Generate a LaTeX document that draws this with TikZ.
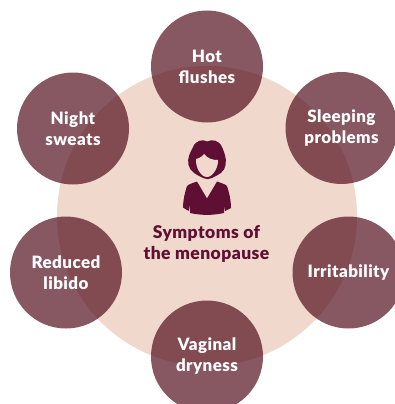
\documentclass[tikz,border=0pt]{standalone}
\usepackage{xcolor}
\usepackage{fontspec}
\setmainfont{Lato}[LetterSpace=2.5, BoldFont={Lato Black}]
\usepackage{tikz}
\definecolor{plum}{HTML}{5E0F33}
\definecolor{wine}{HTML}{4A0012}
\definecolor{sand}{HTML}{F0D9CC}

\begin{document}
\begin{tikzpicture}[
    x=1pt, y=-1pt,
    symptom/.style={circle, minimum size=112pt, inner sep=0pt, align=center,
                font=\fontsize{17}{21}\selectfont\bfseries, text=white,
                fill=wine, fill opacity=0.66, text opacity=1},
    title/.style={align=center, font=\fontsize{17.5}{21}\selectfont\bfseries, text=plum}
]

\clip (0,0) rectangle (395,404);
\fill[white] (0,0) rectangle (395,404);

% Background
\node[circle, fill=sand, minimum size=300pt, inner sep=0pt] (disc) at (207,216) {};

% Symptoms
\node[symptom] (hot) at (207,66.5) {Hot\\flushes};
\node[symptom] (sleep) at (341.5,128) {Sleeping\\problems};
\node[symptom] (irritable) at (348.5,272.5) {Irritability};
\node[symptom] (vaginal) at (207,356.5) {Vaginal\\dryness};
\node[symptom] (libido) at (66,272.5) {Reduced\\libido};
\node[symptom] (night) at (73,128.5) {Night\\sweats};

% Centre
\node[title] (centre) at (206.5,243.5) {Symptoms of\\the menopause};

% Woman
\fill[plum] (207,141.5) .. controls (203,139) and (196,140) .. (193,147)
    .. controls (190,153) and (187,158) .. (188.5,165)
    .. controls (190,172) and (197,175) .. (203,178)
    .. controls (206,179.5) and (209,179.5) .. (212,178)
    .. controls (218,175) and (225,172) .. (225.5,165)
    .. controls (227,158) and (224,152) .. (222,147)
    .. controls (219,140) and (212,139) .. (207,141.5) -- cycle;
\fill[sand] (196,159) .. controls (201,158) and (203,155) .. (204,154)
    .. controls (208,159) and (213,160) .. (218,160)
    .. controls (218.5,167) and (213,177) .. (207,177)
    .. controls (201,177) and (195.5,168) .. (196,159) -- cycle;
\fill[plum] (197,181.5) -- (207,198.5) -- (217,181.5)
    .. controls (221,183) and (225,184) .. (227,186)
    .. controls (229,192) and (231,200) .. (231,208)
    .. controls (229,209) and (227,210) .. (225,211)
    -- (224,204) -- (224,213)
    .. controls (213,215.5) and (201,215.5) .. (190,213)
    -- (190,204) -- (189,211)
    .. controls (187,210) and (185,209) .. (183,207.5)
    .. controls (183,200) and (185,192) .. (187,186)
    .. controls (189,184) and (193,183) .. (197,181.5) -- cycle;

\end{tikzpicture}
\end{document}
